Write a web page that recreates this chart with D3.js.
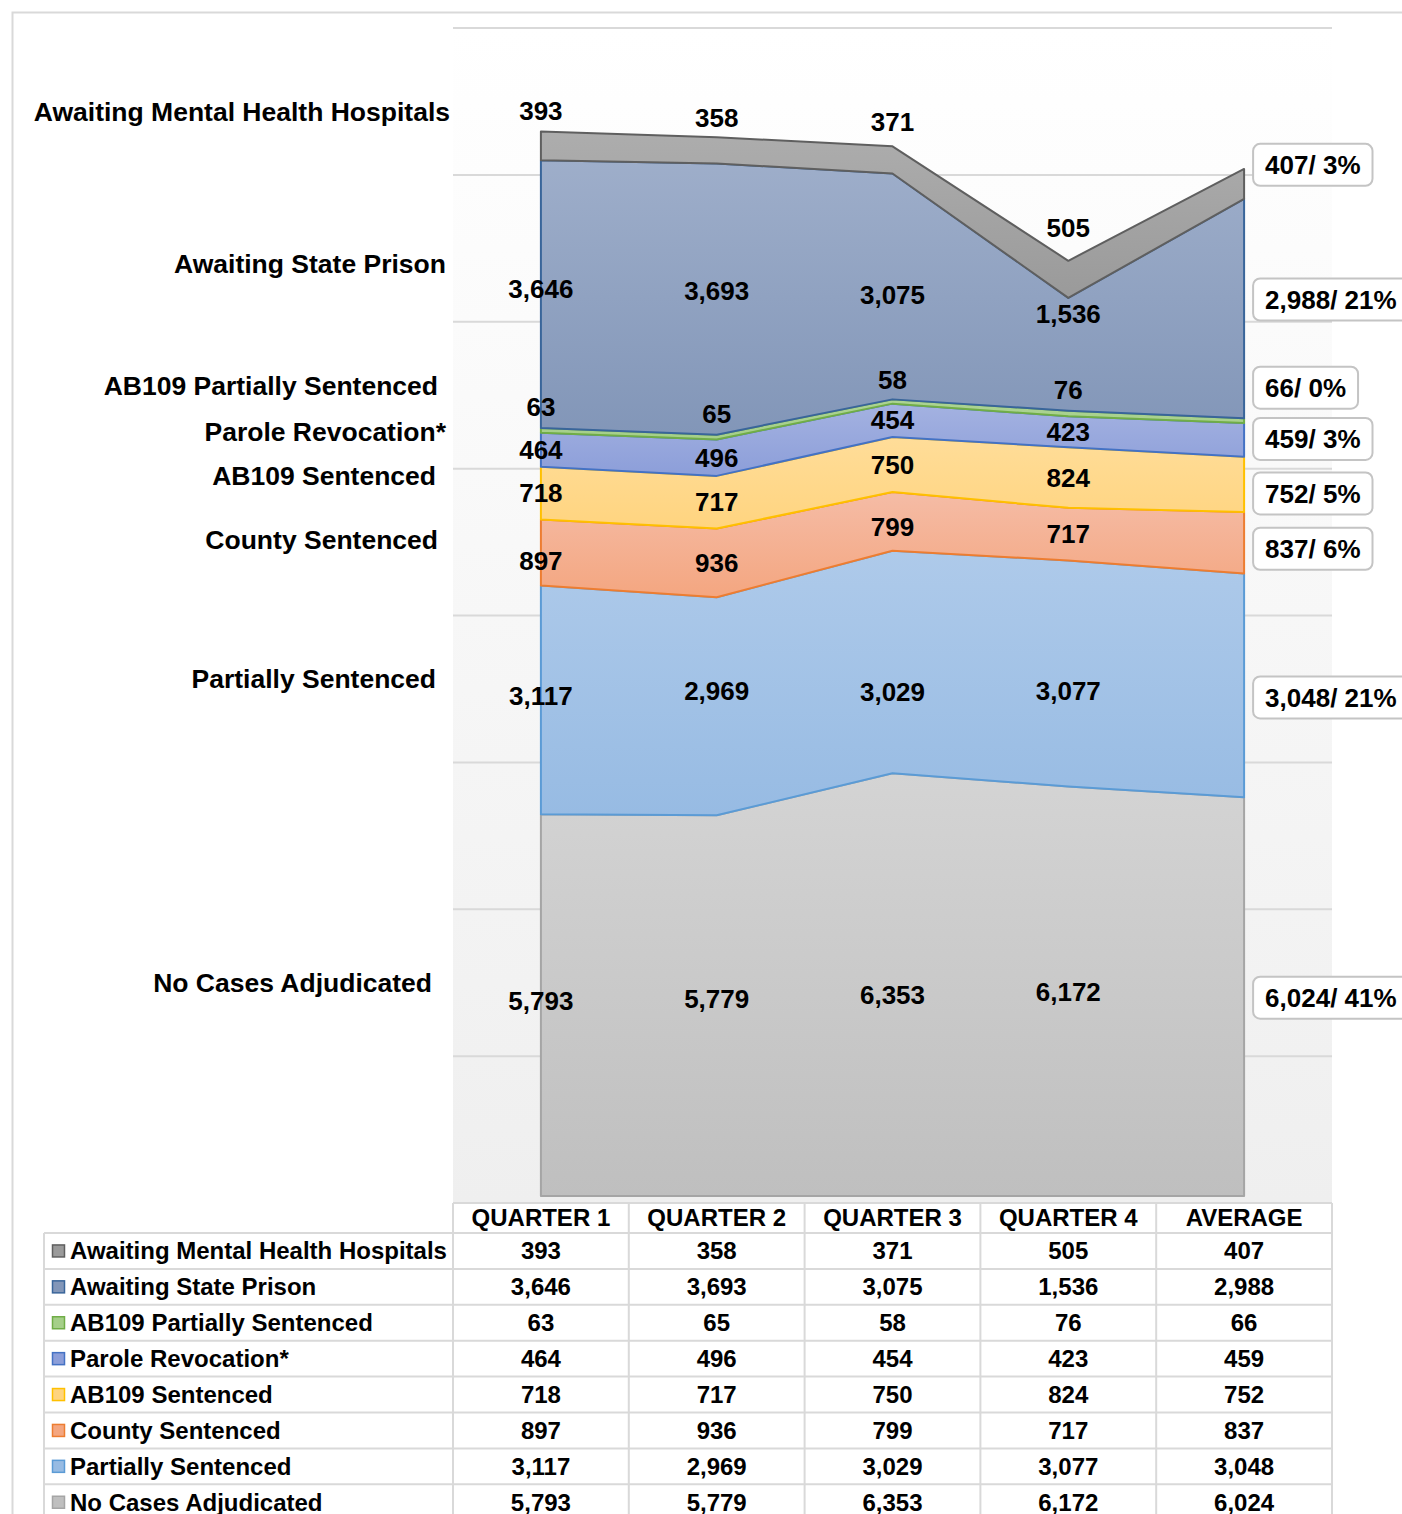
<!DOCTYPE html>
<html>
<head>
<meta charset="utf-8">
<script src="https://cdn.jsdelivr.net/npm/d3@7"></script>
<style>
  body { margin: 0; background: #fff; }
  svg { display: block; font-family: "Liberation Sans", Arial, sans-serif; font-weight: bold; }
</style>
</head>
<body>
<svg id="chart" width="1402" height="1514"></svg>
<script>
// ---- data (table order, top row first) ----
const categories = ["QUARTER 1", "QUARTER 2", "QUARTER 3", "QUARTER 4", "AVERAGE"];
const seriesNames = ["Awaiting Mental Health Hospitals", "Awaiting State Prison", "AB109 Partially Sentenced",
  "Parole Revocation*", "AB109 Sentenced", "County Sentenced", "Partially Sentenced", "No Cases Adjudicated"];
const mentalHealth       = [393, 358, 371, 505, 407];
const statePrison        = [3646, 3693, 3075, 1536, 2988];
const ab109Partial       = [63, 65, 58, 76, 66];
const paroleRevocation   = [464, 496, 454, 423, 459];
const ab109Sentenced     = [718, 717, 750, 824, 752];
const countySentenced    = [897, 936, 799, 717, 837];
const partiallySentenced = [3117, 2969, 3029, 3077, 3048];
const noCases            = [5793, 5779, 6353, 6172, 6024];
const averagePct         = [3, 21, 0, 3, 5, 6, 21, 41];
const yTicks = [500, 2500, 4500, 6500, 8500, 10500, 12500, 14500, 16500];

const seriesValues = [mentalHealth, statePrison, ab109Partial, paroleRevocation,
  ab109Sentenced, countySentenced, partiallySentenced, noCases];

// colours: [fill top, fill bottom, outline]
const colors = {
  "Awaiting Mental Health Hospitals": ["#adadad", "#9a9a9a", "#5f5f5f"],
  "Awaiting State Prison":            ["#9eaeca", "#8296b8", "#39659a"],
  "AB109 Partially Sentenced":        ["#acd393", "#a5cf89", "#70ad47"],
  "Parole Revocation*":               ["#a4b2e1", "#8c9ed9", "#4472c4"],
  "AB109 Sentenced":                  ["#ffdd99", "#ffd47f", "#ffc000"],
  "County Sentenced":                 ["#f5bca6", "#f4a680", "#ed7d31"],
  "Partially Sentenced":              ["#aecaea", "#97bbe3", "#5b9bd5"],
  "No Cases Adjudicated":             ["#d4d4d4", "#bfbfbf", "#a5a5a5"]
};

// label tweaks (px) per category, like hand-dragged labels in the original
const labelNudge = {
  "Awaiting Mental Health Hospitals": [0, 2, -3, -12, -19],
  "Awaiting State Prison":            [-5, -8, 8, -40, -9],
  "AB109 Partially Sentenced":        [0, 0, 2, 0, -33],
  "Parole Revocation*":               [0, 0, 0, 0, -1],
  "AB109 Sentenced":                  [0, 0, 0, 0, 9],
  "County Sentenced":                 [8, 0, 6, 0, 6],
  "Partially Sentenced":              [-4, -15, 30, 17, 12],
  "No Cases Adjudicated":             [-4, -7, 10, 1, 1]
};
const thinSeries = ["Awaiting Mental Health Hospitals", "AB109 Partially Sentenced"];

// side captions: [right edge x, y]
const sideLabelAt = [[450, 112], [446, 264], [438, 386], [446, 432], [436, 476], [438, 540], [436, 679], [432, 983]];

// ---- layout ----
const svg = d3.select("#chart");
const plot = {left: 453, right: 1332, top: 28, bottom: 1203};
const baseInset = 7;
const fmt = d3.format(",");

const x = d3.scalePoint().domain(categories).range([plot.left, plot.right]).padding(0.5);
const xBand = d3.scaleBand().domain(categories).range([plot.left, plot.right]);
const y = d3.scaleLinear().domain([500, 16500]).range([plot.bottom, plot.top]);
const baseY = y(500) - baseInset;

const rows = categories.map((c, i) => {
  const r = {cat: c};
  seriesNames.forEach((s, k) => { r[s] = seriesValues[k][i]; });
  return r;
});
const stackKeys = seriesNames.slice().reverse();
const layers = d3.stack().keys(stackKeys)(rows);

const defs = svg.append("defs");
const bgGrad = defs.append("linearGradient").attr("id", "bg").attr("x1", 0).attr("y1", 0).attr("x2", 0).attr("y2", 1);
bgGrad.append("stop").attr("offset", "0%").attr("stop-color", "#ffffff");
bgGrad.append("stop").attr("offset", "100%").attr("stop-color", "#efefef");
seriesNames.forEach((s, k) => {
  const g = defs.append("linearGradient").attr("id", "g" + k).attr("x1", 0).attr("y1", 0).attr("x2", 0).attr("y2", 1);
  g.append("stop").attr("offset", "0%").attr("stop-color", colors[s][0]);
  g.append("stop").attr("offset", "100%").attr("stop-color", colors[s][1]);
});

// outer frame
svg.append("path").attr("d", "M12.5,1514V12.5H1402").attr("fill", "none").attr("stroke", "#d9d9d9").attr("stroke-width", 2);

// plot background + gridlines
svg.append("rect").attr("x", plot.left).attr("y", plot.top)
  .attr("width", plot.right - plot.left).attr("height", plot.bottom - plot.top).attr("fill", "url(#bg)");
svg.append("g").selectAll("line").data(yTicks).enter().append("line")
  .attr("x1", plot.left).attr("x2", plot.right)
  .attr("y1", d => y(d)).attr("y2", d => y(d))
  .attr("stroke", "#d9d9d9").attr("stroke-width", 2);

// stacked areas
const area = d3.area()
  .x((d, i) => x(categories[i]))
  .y0(d => Math.min(y(d[0]), baseY))
  .y1(d => y(d[1]));

svg.append("g").selectAll("path").data(layers).enter().append("path")
  .attr("d", d => area(d) + "Z")
  .attr("fill", d => "url(#g" + seriesNames.indexOf(d.key) + ")")
  .attr("stroke", d => colors[d.key][2])
  .attr("stroke-width", 2)
  .attr("stroke-linejoin", "round");

// data labels
const labelG = svg.append("g").attr("font-size", 26).attr("fill", "#000");
layers.forEach(layer => {
  const s = layer.key;
  const k = seriesNames.indexOf(s);
  layer.forEach((d, i) => {
    const y0 = Math.min(y(d[0]), baseY), y1 = y(d[1]);
    let ly = (y0 + y1) / 2;
    if (thinSeries.includes(s) && i < 4) ly = y1 - 21;
    ly += labelNudge[s][i];
    const v = d[1] - d[0];
    if (i < 4) {
      labelG.append("text").attr("x", x(categories[i])).attr("y", ly).attr("dy", "0.35em")
        .attr("text-anchor", "middle").text(fmt(v));
    } else {
      const bx = x(categories[i]) + 9;
      const box = labelG.append("rect").attr("fill", "#fff").attr("stroke", "#c4c4c4")
        .attr("stroke-width", 2).attr("rx", 7);
      const t = labelG.append("text").attr("x", bx + 12).attr("y", ly).attr("dy", "0.35em")
        .text(fmt(v) + "/ " + averagePct[k] + "%");
      const w = t.node().getComputedTextLength();
      box.attr("x", bx).attr("y", ly - 21).attr("width", w + 24).attr("height", 42);
    }
  });
});

// side captions
svg.append("g").attr("font-size", 26.5).selectAll("text").data(seriesNames).enter().append("text")
  .attr("x", (d, k) => sideLabelAt[k][0]).attr("y", (d, k) => sideLabelAt[k][1])
  .attr("dy", "0.35em").attr("text-anchor", "end").text(d => d);

// data table
const headerH = 30, rowH = 35.9, tableLeft = 44;
const tableTop = plot.bottom;
const tbl = svg.append("g").attr("font-size", 24);
const lineCol = "#d9d9d9";
const tableBottom = tableTop + headerH + rowH * seriesNames.length;

tbl.append("line").attr("x1", plot.left).attr("x2", plot.right).attr("y1", tableTop).attr("y2", tableTop)
  .attr("stroke", lineCol).attr("stroke-width", 2);
d3.range(seriesNames.length + 1).forEach(r => {
  const yy = tableTop + headerH + r * rowH;
  tbl.append("line").attr("x1", tableLeft).attr("x2", plot.right).attr("y1", yy).attr("y2", yy)
    .attr("stroke", lineCol).attr("stroke-width", 2);
});
categories.concat([null]).forEach((c, i) => {
  const xx = c ? xBand(c) : plot.right;
  tbl.append("line").attr("x1", xx).attr("x2", xx).attr("y1", tableTop).attr("y2", tableBottom)
    .attr("stroke", lineCol).attr("stroke-width", 2);
});
tbl.append("line").attr("x1", tableLeft).attr("x2", tableLeft).attr("y1", tableTop + headerH).attr("y2", tableBottom)
  .attr("stroke", lineCol).attr("stroke-width", 2);

tbl.selectAll("text.head").data(categories).enter().append("text").attr("class", "head")
  .attr("x", d => x(d)).attr("y", tableTop + headerH / 2).attr("dy", "0.35em")
  .attr("text-anchor", "middle").text(d => d);

seriesNames.forEach((s, k) => {
  const cy = tableTop + headerH + rowH * (k + 0.5);
  tbl.append("rect").attr("x", 52.5).attr("y", cy - 6).attr("width", 12).attr("height", 12)
    .attr("fill", colors[s][1]).attr("stroke", colors[s][2]).attr("stroke-width", 1.5);
  tbl.append("text").attr("x", 70).attr("y", cy).attr("dy", "0.35em").text(s);
  seriesValues[k].forEach((v, i) => {
    tbl.append("text").attr("x", x(categories[i])).attr("y", cy).attr("dy", "0.35em")
      .attr("text-anchor", "middle").text(fmt(v));
  });
});
</script>
</body>
</html>
